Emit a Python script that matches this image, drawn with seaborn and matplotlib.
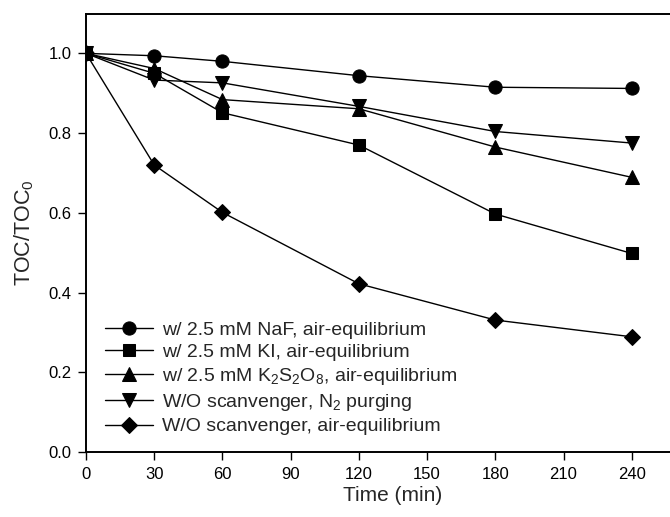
import matplotlib
matplotlib.use("Agg")
import matplotlib.pyplot as plt
import seaborn as sns
import pandas as pd

time_min = [0, 30, 60, 120, 180, 240]
naf = [1.0, 0.994, 0.980, 0.944, 0.915, 0.912]
ki = [1.0, 0.950, 0.851, 0.770, 0.597, 0.498]
k2s2o8 = [1.0, 0.962, 0.884, 0.861, 0.765, 0.689]
n2_purging = [1.0, 0.933, 0.926, 0.867, 0.804, 0.775]
no_scav_air = [1.0, 0.720, 0.601, 0.422, 0.331, 0.289]

labels = [
    "w/ 2.5 mM NaF, air-equilibrium",
    "w/ 2.5 mM KI, air-equilibrium",
    r"w/ 2.5 mM K$_2$S$_2$O$_8$, air-equilibrium",
    r"W/O scanvenger, N$_2$ purging",
    "W/O scanvenger, air-equilibrium",
]
series = [naf, ki, k2s2o8, n2_purging, no_scav_air]
markers = ["o", "s", "^", "v", "D"]
msizes = [9.5, 8, 9.5, 9.5, 8]

x_ticks = [0, 30, 60, 90, 120, 150, 180, 210, 240]
y_ticks = [0.0, 0.2, 0.4, 0.6, 0.8, 1.0]

sns.set_style("ticks")
plt.rcParams["font.family"] = ["Liberation Sans", "DejaVu Sans"]
plt.rcParams["mathtext.fontset"] = "custom"
plt.rcParams["mathtext.rm"] = "Liberation Sans"
plt.rcParams["mathtext.it"] = "Liberation Sans:italic"
plt.rcParams["mathtext.bf"] = "Liberation Sans:bold"

fig = plt.figure(figsize=(6.70, 5.17), dpi=100)
ax = fig.add_axes([86 / 670, 65 / 517, 614 / 670, 438.5 / 517])

for vals, lab, mk, ms in zip(series, labels, markers, msizes):
    df = pd.DataFrame({"Time (min)": time_min, "TOC": vals})
    sns.lineplot(data=df, x="Time (min)", y="TOC", ax=ax, color="black",
                 marker=mk, markersize=ms, markeredgecolor="black",
                 markerfacecolor="black", linewidth=1.0, label=lab)

ax.set_xlim(0, 270)
ax.set_ylim(0, 1.1)
ax.set_xticks(x_ticks)
ax.set_yticks(y_ticks)
ax.set_yticklabels([f"{v:.1f}" for v in y_ticks])
ax.tick_params(direction="out", length=6, width=1.0, pad=4.5,
               labelsize=12, colors="black")
ax.set_xlabel("Time (min)", fontsize=15, labelpad=3)
ax.set_ylabel(r"TOC/TOC$_0$", fontsize=15.5, labelpad=9)
for s in ax.spines.values():
    s.set_linewidth(1.4)
    s.set_color("black")

leg = ax.legend(loc="lower left", bbox_to_anchor=(0.018, 0.02), frameon=False,
                fontsize=14, handlelength=2.47, handletextpad=0.46,
                labelspacing=0.25, borderaxespad=0.0, borderpad=0.4)

fig.savefig("out.png", dpi=100)
